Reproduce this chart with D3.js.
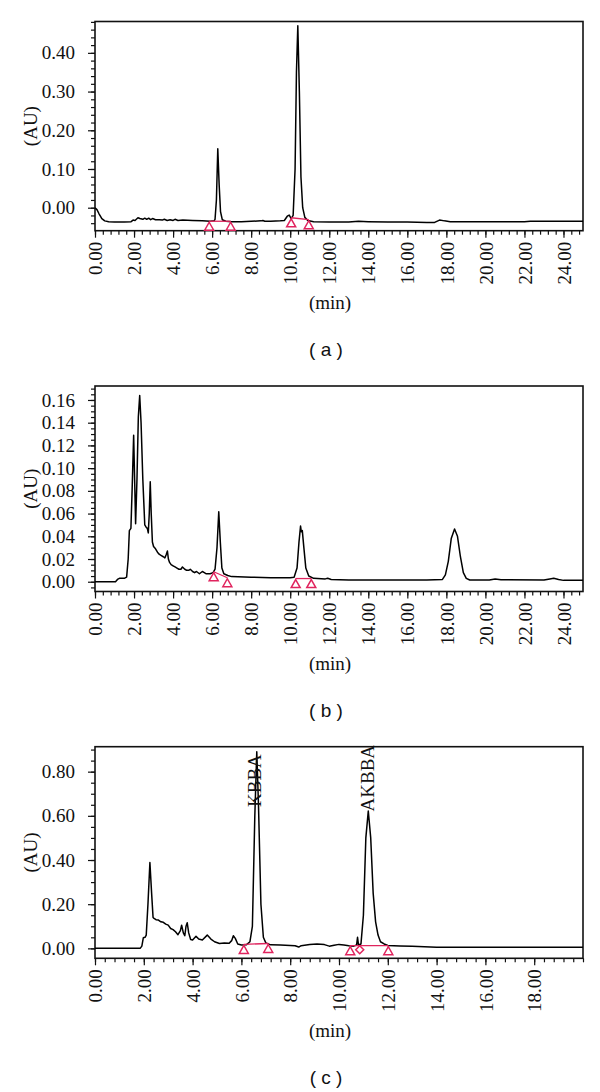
<!DOCTYPE html>
<html>
<head>
<meta charset="utf-8">
<script src="https://cdn.jsdelivr.net/npm/d3@7"></script>
<style>
  body { margin: 0; background: #fff; }
  .tick text { font-family: "Liberation Serif", "DejaVu Serif", serif; font-size: 19px; fill: #111; }
  .axis path { display: none; }
  .axis line { stroke: #111; stroke-width: 1.2px; }
  .trace { fill: none; stroke: #000; stroke-width: 1.5px; stroke-linejoin: round; }
  .base { fill: none; stroke: #e0245e; stroke-width: 1.3px; }
  .mark { fill: none; stroke: #e0245e; stroke-width: 1.5px; }
  .lab { font-family: "Liberation Serif", "DejaVu Serif", serif; font-size: 19px; fill: #111; }
  .panel { font-family: "Liberation Sans", Arial, sans-serif; font-size: 19px; fill: #111; }
</style>
</head>
<body>
<div id="graph"></div>
<script>
/*
    HPLC chromatograms (a), (b), (c)
*/

// panel (a) trace: [min, AU]
var traceA = [
    [0, 0.0], [0.1, -0.005], [0.2, -0.015], [0.35, -0.028], [0.5, -0.034], [0.7, -0.036],
    [1.0, -0.037], [1.5, -0.037], [1.85, -0.036], [1.95, -0.032], [2.05, -0.033], [2.2, -0.026],
    [2.3, -0.028], [2.45, -0.030], [2.55, -0.027], [2.65, -0.030], [2.75, -0.027], [2.85, -0.031],
    [2.95, -0.028], [3.1, -0.031], [3.3, -0.031], [3.45, -0.032], [3.55, -0.030], [3.7, -0.033],
    [3.85, -0.031], [4.0, -0.033], [4.1, -0.030], [4.25, -0.033], [4.5, -0.032], [5.0, -0.033],
    [5.5, -0.034], [5.9, -0.035], [6.1, -0.034], [6.15, -0.030], [6.22, 0.02], [6.29, 0.152],
    [6.36, 0.06], [6.43, -0.01], [6.52, -0.031], [6.7, -0.035], [7.0, -0.036], [7.5, -0.036],
    [8.0, -0.035], [8.5, -0.034], [8.6, -0.033], [8.7, -0.035], [9.0, -0.035], [9.5, -0.034],
    [9.7, -0.033], [9.85, -0.022], [9.95, -0.019], [10.05, -0.028], [10.15, -0.02], [10.25, 0.10],
    [10.32, 0.35], [10.39, 0.47], [10.47, 0.30], [10.55, 0.08], [10.64, 0.0], [10.75, -0.025],
    [10.9, -0.033], [11.2, -0.036], [12, -0.037], [13, -0.037], [13.5, -0.035], [14, -0.036],
    [15, -0.037], [16, -0.037], [17, -0.038], [17.4, -0.038], [17.65, -0.032], [17.9, -0.034],
    [18.2, -0.036], [19, -0.036], [20, -0.036], [22, -0.036], [22.3, -0.035], [25, -0.035]
]
var baseA = [ [[5.85, -0.035], [6.95, -0.035]], [[10.05, -0.026], [10.95, -0.031]] ]
var triA = [ [5.85, -0.035], [6.95, -0.035], [10.05, -0.026], [10.95, -0.031] ]

// panel (b) trace
var traceB = [
    [0, 0.0], [1.05, 0.0], [1.15, 0.002], [1.25, 0.003], [1.5, 0.003], [1.62, 0.004], [1.7, 0.02],
    [1.76, 0.045], [1.84, 0.047], [1.9, 0.08], [1.98, 0.129], [2.03, 0.09], [2.08, 0.051],
    [2.15, 0.09], [2.22, 0.145], [2.29, 0.164], [2.36, 0.14], [2.45, 0.09], [2.55, 0.05],
    [2.62, 0.048], [2.68, 0.047], [2.73, 0.043], [2.78, 0.06], [2.83, 0.088], [2.88, 0.06],
    [2.94, 0.035], [3.0, 0.031], [3.1, 0.029], [3.2, 0.026], [3.3, 0.024], [3.4, 0.023],
    [3.5, 0.022], [3.58, 0.021], [3.65, 0.024], [3.71, 0.027], [3.76, 0.020], [3.82, 0.017],
    [3.9, 0.015], [4.0, 0.014], [4.1, 0.013], [4.2, 0.012], [4.3, 0.011], [4.4, 0.011],
    [4.48, 0.013], [4.6, 0.011], [4.7, 0.010], [4.8, 0.010], [4.88, 0.011], [5.0, 0.009],
    [5.1, 0.008], [5.2, 0.009], [5.35, 0.007], [5.5, 0.009], [5.6, 0.008], [5.7, 0.007],
    [5.9, 0.007], [6.05, 0.008], [6.15, 0.011], [6.25, 0.03], [6.34, 0.0616], [6.42, 0.035],
    [6.5, 0.012], [6.6, 0.007], [6.8, 0.0055], [7.0, 0.0045], [8.0, 0.004], [9.0, 0.0035],
    [10.0, 0.0035], [10.2, 0.004], [10.35, 0.012], [10.45, 0.035], [10.53, 0.049], [10.57, 0.044],
    [10.62, 0.045], [10.7, 0.03], [10.8, 0.012], [10.95, 0.005], [11.2, 0.003], [11.8, 0.0025],
    [11.92, 0.003], [12.1, 0.002], [13, 0.0015], [15, 0.0015], [17, 0.0015], [17.8, 0.002],
    [17.95, 0.006], [18.1, 0.018], [18.25, 0.038], [18.42, 0.0465], [18.57, 0.040], [18.72, 0.022],
    [18.87, 0.008], [19.02, 0.003], [19.2, 0.0015], [20.2, 0.0015], [20.5, 0.0025], [20.8, 0.0018],
    [23.0, 0.0015], [23.3, 0.0025], [23.5, 0.003], [23.75, 0.002], [24.0, 0.0012], [25, 0.0012]
]
var baseB = [ [[6.08, 0.0088], [6.78, 0.0035]], [[10.28, 0.0028], [11.08, 0.0028]] ]
var triB = [ [6.08, 0.0088], [6.78, 0.0035], [10.28, 0.0028], [11.08, 0.0028] ]

// panel (c) trace
var traceC = [
    [0, 0.0], [1.85, 0.0], [1.92, 0.01], [1.98, 0.048], [2.05, 0.05], [2.1, 0.06], [2.17, 0.2],
    [2.25, 0.389], [2.32, 0.25], [2.38, 0.14], [2.42, 0.136], [2.5, 0.13], [2.6, 0.128],
    [2.7, 0.12], [2.8, 0.118], [2.9, 0.11], [3.0, 0.105], [3.1, 0.09], [3.2, 0.085], [3.3, 0.075],
    [3.4, 0.062], [3.5, 0.08], [3.55, 0.105], [3.62, 0.07], [3.68, 0.057], [3.73, 0.1],
    [3.78, 0.116], [3.84, 0.07], [3.92, 0.04], [4.0, 0.038], [4.14, 0.055], [4.25, 0.042],
    [4.4, 0.038], [4.6, 0.06], [4.75, 0.042], [4.9, 0.03], [5.1, 0.022], [5.3, 0.024],
    [5.5, 0.023], [5.6, 0.035], [5.67, 0.057], [5.75, 0.045], [5.85, 0.02], [6.0, 0.015],
    [6.2, 0.016], [6.35, 0.03], [6.45, 0.1], [6.55, 0.6], [6.63, 0.89], [6.7, 0.65], [6.8, 0.2],
    [6.9, 0.05], [7.0, 0.025], [7.2, 0.016], [7.6, 0.015], [8.0, 0.013], [8.2, 0.012],
    [8.35, 0.006], [8.45, 0.012], [8.8, 0.017], [9.1, 0.02], [9.4, 0.017], [9.6, 0.01],
    [9.8, 0.014], [10.0, 0.018], [10.2, 0.015], [10.4, 0.012], [10.6, 0.01], [10.72, 0.015],
    [10.76, 0.05], [10.8, 0.015], [10.9, 0.02], [11.0, 0.15], [11.1, 0.5], [11.2, 0.622],
    [11.3, 0.5], [11.4, 0.25], [11.5, 0.12], [11.6, 0.06], [11.7, 0.03], [11.85, 0.02],
    [12.0, 0.013], [12.5, 0.011], [13, 0.009], [13.5, 0.007], [14, 0.005], [16, 0.005], [20, 0.005]
]
var baseC = [ [[6.1, 0.018], [7.1, 0.022]], [[10.46, 0.012], [12.02, 0.012]] ]
var triC = [ [6.1, 0.018], [7.1, 0.022], [10.46, 0.012], [12.02, 0.012] ]
var diaC = [ [10.85, 0.012] ]
var peakNames = [ "KBBA", "AKBBA" ]
var peakPos = [ [6.52, 0.64], [11.17, 0.62] ]

// x / y tick labels
var xTicksAB = d3.range(0, 25, 2)
var xTicksC = d3.range(0, 20, 2)
var yTicksA = [0.0, 0.1, 0.2, 0.3, 0.4]
var yTicksB = [0.0, 0.02, 0.04, 0.06, 0.08, 0.10, 0.12, 0.14, 0.16]
var yTicksC = [0.0, 0.2, 0.4, 0.6, 0.8]

var panels = [
    { trace: traceA, base: baseA, tri: triA, dia: [], names: [], pos: [],
      xMax: 25, yDom: [-0.0594, 0.481], xt: xTicksAB, yt: yTicksA, yMinor: 0.02,
      top: 21.5, bottom: 230.7, letter: "( a )" },
    { trace: traceB, base: baseB, tri: triB, dia: [], names: [], pos: [],
      xMax: 25, yDom: [-0.0086, 0.1723], xt: xTicksAB, yt: yTicksB, yMinor: 0.005,
      top: 386, bottom: 591.5, letter: "( b )" },
    { trace: traceC, base: baseC, tri: triC, dia: diaC, names: peakNames, pos: peakPos,
      xMax: 20, yDom: [-0.045, 0.913], xt: xTicksC, yt: yTicksC, yMinor: 0.05,
      top: 746.7, bottom: 958.3, letter: "( c )" }
]

var left = 95, right = 583

var svg = d3.select("#graph").append("svg")
    .attr("width", 600)
    .attr("height", 1092)

panels.forEach(function (p) {
    var x = d3.scaleLinear().domain([0, p.xMax]).range([left, right]),
        y = d3.scaleLinear().domain(p.yDom).range([p.bottom, p.top])

    var g = svg.append("g")

    // minor ticks
    g.append("g")
        .attr("class", "axis")
        .attr("transform", "translate(0," + p.bottom + ")")
        .call(d3.axisBottom(x).tickValues(d3.range(0, p.xMax + 0.01, 0.4)).tickSize(4).tickFormat(""))
    g.append("g")
        .attr("class", "axis")
        .attr("transform", "translate(" + left + ",0)")
        .call(d3.axisLeft(y).tickValues(d3.range(Math.ceil(p.yDom[0] / p.yMinor) * p.yMinor, p.yDom[1], p.yMinor)).tickSize(4).tickFormat(""))

    // major ticks
    g.append("g")
        .attr("class", "axis")
        .attr("transform", "translate(0," + p.bottom + ")")
        .call(d3.axisBottom(x).tickValues(p.xt).tickSize(7).tickFormat(d3.format(".2f")))
        .selectAll("text")
            .attr("transform", "rotate(-90)")
            .attr("x", -11)
            .attr("y", 0)
            .attr("dy", "0.35em")
            .style("text-anchor", "end")
    g.append("g")
        .attr("class", "axis")
        .attr("transform", "translate(" + left + ",0)")
        .call(d3.axisLeft(y).tickValues(p.yt).tickSize(7).tickPadding(13).tickFormat(d3.format(".2f")))

    // frame
    g.append("rect")
        .attr("x", left).attr("y", p.top)
        .attr("width", right - left).attr("height", p.bottom - p.top)
        .attr("fill", "none").attr("stroke", "#111").attr("stroke-width", 1.6)

    // trace
    var line = d3.line()
        .x(function (d) { return x(d[0]) })
        .y(function (d) { return y(d[1]) })
    g.append("path").attr("class", "trace").attr("d", line(p.trace))

    // integration baselines and markers
    p.base.forEach(function (b) {
        g.append("path").attr("class", "base").attr("d", line(b))
    })
    g.selectAll(".tri").data(p.tri).enter().append("path")
        .attr("class", "mark")
        .attr("d", function (d) {
            var cx = x(d[0]), cy = y(d[1]) + 1
            return "M" + cx + "," + cy + "L" + (cx + 4.5) + "," + (cy + 8) + "L" + (cx - 4.5) + "," + (cy + 8) + "Z"
        })
    g.selectAll(".dia").data(p.dia).enter().append("path")
        .attr("class", "mark")
        .attr("d", function (d) {
            var cx = x(d[0]), cy = y(d[1]) + 4
            return "M" + cx + "," + (cy - 4) + "L" + (cx + 4) + "," + cy + "L" + cx + "," + (cy + 4) + "L" + (cx - 4) + "," + cy + "Z"
        })

    // peak names
    p.names.forEach(function (n, i) {
        var px = x(p.pos[i][0]), py = y(p.pos[i][1])
        g.append("text")
            .attr("class", "lab")
            .attr("transform", "translate(" + px + "," + py + ") rotate(-90)")
            .attr("dy", "0.35em")
            .text(n)
    })

    // axis titles
    g.append("text")
        .attr("class", "lab")
        .attr("transform", "translate(30," + ((p.top + p.bottom) / 2) + ") rotate(-90)")
        .attr("text-anchor", "middle")
        .attr("dy", "0.35em")
        .text("(AU)")
    g.append("text")
        .attr("class", "lab")
        .attr("x", 330)
        .attr("y", p.bottom + 72)
        .attr("text-anchor", "middle")
        .attr("dy", "0.35em")
        .text("(min)")
    g.append("text")
        .attr("class", "panel")
        .attr("x", 326)
        .attr("y", p.bottom + 119)
        .attr("text-anchor", "middle")
        .attr("dy", "0.35em")
        .style("white-space", "pre")
        .text(p.letter)
})
</script>
</body>
</html>
